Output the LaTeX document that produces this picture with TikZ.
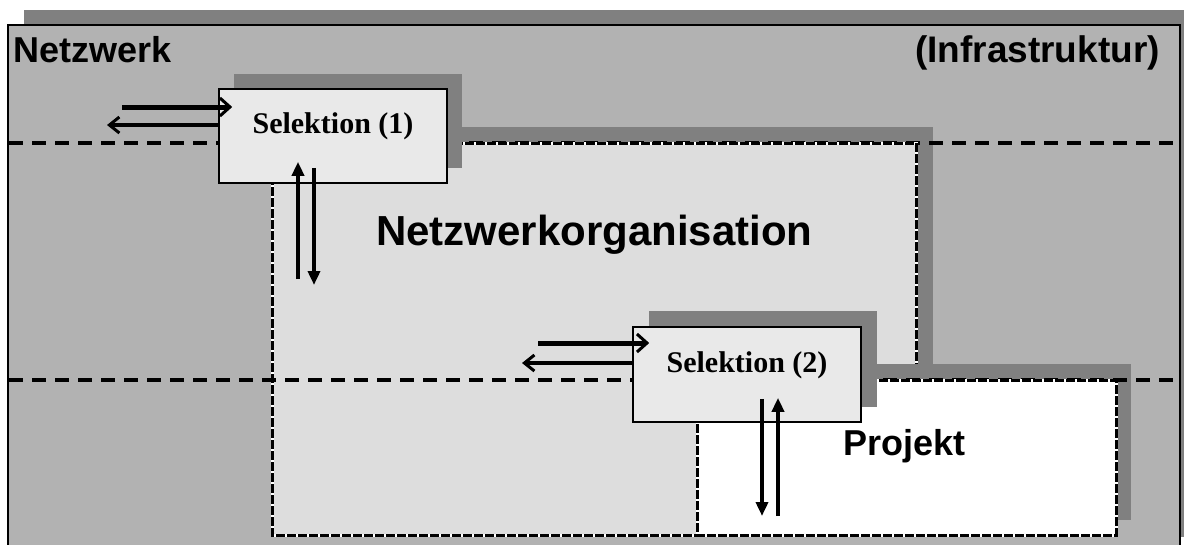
\documentclass[tikz,border=0pt]{standalone}
\usepackage{fontspec}
\newfontfamily\sansb{Liberation Sans}
\newfontfamily\serifs{Liberation Serif}
\usetikzlibrary{arrows.meta}
\definecolor{framefill}{gray}{0.70}
\definecolor{shade}{gray}{0.502}
\definecolor{orgfill}{gray}{0.865}
\definecolor{boxfill}{gray}{0.915}
\tikzset{
 thickdash/.style={line width=4pt, dash pattern=on 14pt off 9pt},
 finedash/.style={line width=3pt, dash pattern=on 9pt off 2pt},
 finewhite/.style={line width=3pt, white},
 shadowfill/.style={fill=shade},
 selbox/.style={draw, line width=1.6pt, fill=boxfill, minimum width=228pt, minimum height=94pt,
   inner sep=0pt, font=\serifs\bfseries\fontsize{30}{32}\selectfont, text height=18pt, text depth=22.5pt},
 hthick/.style={line width=5pt, -{Straight Barb[length=10pt,width=18pt,line width=3pt]}},
 hthin/.style={line width=3.5pt, -{Straight Barb[length=10pt,width=16pt,line width=3pt]}},
 varrow/.style={line width=3.5pt, -{Triangle[length=14pt,width=12pt]}},
 biglabel/.style={font=\sansb\bfseries\fontsize{36}{40}\selectfont, inner sep=0pt}
}
\begin{document}
\begin{tikzpicture}[x=1pt,y=-1pt]
\useasboundingbox (0,0) rectangle (1184,544);
\clip (0,0) rectangle (1184,544);
\fill[white] (0,0) rectangle (1184,544);
% outer frame (Netzwerk)
\fill[shadowfill] (24,10) rectangle (1196,537);
\filldraw[fill=framefill, draw=black, line width=2pt] (8,25) rectangle (1180,552);
% Netzwerkorganisation region
\fill[shadowfill] (289,127) rectangle (933,519);
\draw[thickdash] (9,143) -- (1179,143);
\fill[orgfill] (272,143) rectangle (916,535);
\draw[finewhite] (272,143) rectangle (916,535);
\draw[finedash] (272,143) rectangle (916,535);
% Projekt region
\fill[shadowfill] (713,364) rectangle (1131,520);
\draw[thickdash] (9,380) -- (1179,380);
\fill[white] (697,380) rectangle (1116,535);
\draw[finewhite] (697,380) rectangle (1116,535);
\draw[finedash] (697,380) rectangle (1116,535);
% Selektion boxes with their shadows
\fill[shadowfill] (234,74) rectangle (462,168);
\fill[shadowfill] (649,311) rectangle (877,407);
\node[selbox] (sel1) at (333,136) {Selektion (1)};
\node[selbox, minimum height=95pt] (sel2) at (747,374.5) {Selektion (2)};
% arrows at Selektion (1)
\coordinate (a1) at (122,107);
\draw[hthick, shorten >=-14pt] (a1) -- (a1 -| sel1.west);
\coordinate (a2) at (107,125);
\draw[hthin] (a2 -| sel1.west) -- (a2);
\coordinate (b1) at (298,279);
\draw[varrow, shorten >=-22pt] (b1) -- (b1 |- sel1.south);
\coordinate (b2) at (314,285);
\draw[varrow, shorten <=-16pt] (b2 |- sel1.south) -- (b2);
% arrows at Selektion (2)
\coordinate (c1) at (538,343);
\draw[hthick, shorten >=-17pt] (c1) -- (c1 -| sel2.west);
\coordinate (c2) at (522,363);
\draw[hthin] (c2 -| sel2.west) -- (c2);
\coordinate (d1) at (762,516);
\draw[varrow, line width=4.5pt, shorten <=-24pt] (d1 |- sel2.south) -- (d1);
\coordinate (d2) at (778,516);
\draw[varrow, line width=4.5pt, shorten >=-25pt] (d2) -- (d2 |- sel2.south);
% labels
\node[biglabel, anchor=base west] (netz) at (13,62) {Netzwerk};
\node[biglabel, anchor=base east, font=\sansb\bfseries\fontsize{37}{40}\selectfont] (infra) at (1160,62) {(Infrastruktur)};
\node[biglabel, anchor=base west, font=\sansb\bfseries\fontsize{42}{44}\selectfont] (org) at (376,245) {Netzwerkorganisation};
\node[biglabel, anchor=base west] (proj) at (843,455) {Projekt};
\end{tikzpicture}
\end{document}
